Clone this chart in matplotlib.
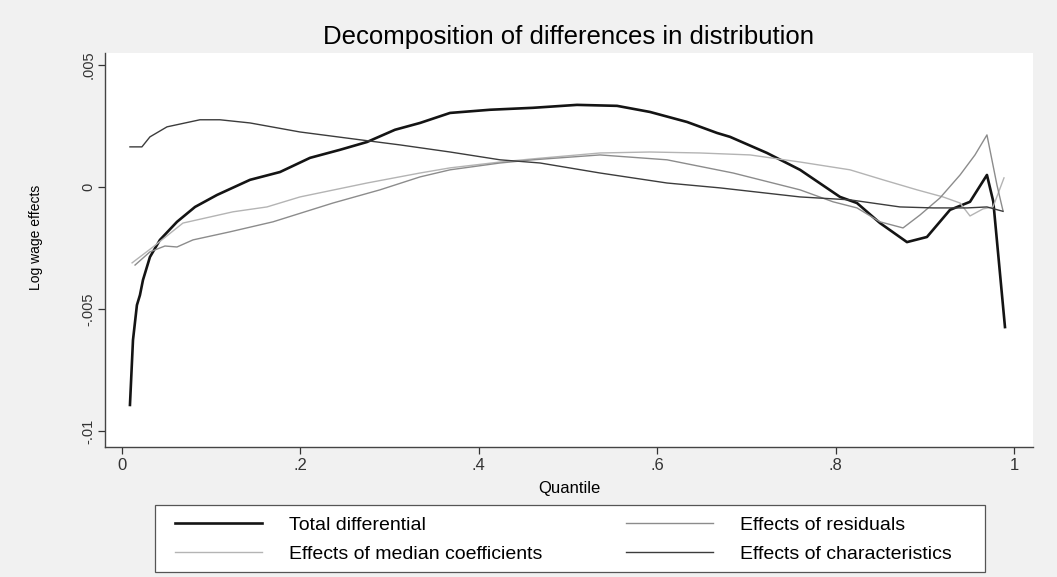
import matplotlib
matplotlib.use('Agg')
import matplotlib.pyplot as plt
from matplotlib.patches import Rectangle

plt.rcParams['font.family'] = ['Liberation Sans', 'DejaVu Sans']

# quantile decomposition series (log wage effects)
q_total = [0.0093, 0.0127, 0.0171, 0.0205, 0.0239, 0.0317, 0.0429, 0.062, 0.0822, 0.1068,
           0.1438, 0.1774, 0.211, 0.2446, 0.2749, 0.3062, 0.3343, 0.3679, 0.4127, 0.4609,
           0.5101, 0.555, 0.5919, 0.6334, 0.667, 0.6816, 0.723, 0.76, 0.8048, 0.8238,
           0.8496, 0.8798, 0.9022, 0.928, 0.9504, 0.9694, 0.9765, 0.9896]
total = [-0.00893, -0.00627, -0.00484, -0.00443, -0.00381, -0.00287, -0.00217, -0.00143, -0.00082, -0.00033,
         0.00029, 0.00061, 0.00119, 0.00152, 0.00184, 0.00234, 0.00262, 0.00303, 0.00316, 0.00324,
         0.00336, 0.00332, 0.00307, 0.00266, 0.00221, 0.00205, 0.00139, 0.0007, -0.00041, -0.00066,
         -0.00148, -0.00226, -0.00205, -0.00094, -0.00061, 0.00049, -0.00060, -0.00574]

q_median = [0.0117, 0.0351, 0.0687, 0.1247, 0.1628, 0.1998, 0.2749, 0.3343, 0.3679, 0.4239,
            0.4609, 0.5359, 0.5919, 0.648, 0.704, 0.76, 0.816, 0.853, 0.8911, 0.9202,
            0.9393, 0.9504, 0.965, 0.9762, 0.9885]
median_coef = [-0.00311, -0.00246, -0.00148, -0.00102, -0.00082, -0.00041, 0.00016, 0.00057, 0.00078, 0.00102,
               0.00115, 0.00139, 0.00143, 0.00139, 0.00131, 0.00102, 0.0007, 0.00029, -0.00012, -0.00041,
               -0.00066, -0.00119, -0.0009, -0.00082, 0.00037]

q_resid = [0.0150, 0.0317, 0.0485, 0.062, 0.0799, 0.1213, 0.1695, 0.2367, 0.2894, 0.3343,
           0.3679, 0.4239, 0.4609, 0.5359, 0.611, 0.685, 0.76, 0.797, 0.8238, 0.8496,
           0.8754, 0.8944, 0.9168, 0.9393, 0.956, 0.9694, 0.9806, 0.9874]
residuals = [-0.00320, -0.00266, -0.00242, -0.00246, -0.00217, -0.00184, -0.00143, -0.00066, -0.00012, 0.00041,
             0.0007, 0.00098, 0.00111, 0.00131, 0.00111, 0.00057, -0.00012, -0.00061, -0.00086, -0.00143,
             -0.00168, -0.00115, -0.00045, 0.00049, 0.00131, 0.00213, 0.00008, -0.00098]

q_char = [0.0093, 0.0227, 0.0317, 0.0508, 0.0877, 0.1101, 0.1438, 0.1998, 0.2671, 0.3119,
          0.3679, 0.4239, 0.4687, 0.5359, 0.611, 0.6704, 0.76, 0.816, 0.872, 0.909,
          0.9471, 0.9694, 0.9874]
characteristics = [0.00164, 0.00164, 0.00205, 0.00246, 0.00275, 0.00275, 0.00262, 0.00225, 0.00193, 0.00172,
                   0.00143, 0.00111, 0.00098, 0.00057, 0.00016, -0.00004, -0.00041, -0.00053, -0.00082, -0.00086,
                   -0.00086, -0.00082, -0.00100]

x_ticks = [0, 0.2, 0.4, 0.6, 0.8, 1.0]
x_labels = ['0', '.2', '.4', '.6', '.8', '1']
y_ticks = [-0.01, -0.005, 0, 0.005]
y_labels = ['-.01', '-.005', '0', '.005']

W, H = 1057, 577
fig = plt.figure(figsize=(W / 100, H / 100), dpi=100, facecolor='#f1f1f1')
ax = fig.add_axes([0.0993, 0.2258, 0.878, 0.683])
ax.set_facecolor('white')

l_tot, = ax.plot(q_total, total, color='#141414', lw=1.9, label='Total differential')
l_med, = ax.plot(q_median, median_coef, color='#b4b4b4', lw=1.0, label='Effects of median coefficients')
l_res, = ax.plot(q_resid, residuals, color='#8c8c8c', lw=1.0, label='Effects of residuals')
l_chr, = ax.plot(q_char, characteristics, color='#3c3c3c', lw=1.0, label='Effects of characteristics')

ax.set_xlim(-0.0187, 1.021)
ax.set_ylim(-0.01064, 0.0055)
ax.set_xticks(x_ticks, x_labels)
ax.set_yticks(y_ticks, y_labels)
for lab in ax.get_yticklabels():
    lab.set_rotation(90)
    lab.set_va('center')
ax.tick_params(direction='out', length=5, width=0.9, colors='#333333')
ax.tick_params(axis='x', labelsize=12, pad=3)
ax.tick_params(axis='y', labelsize=10.5, pad=2)
for s in ['top', 'right']:
    ax.spines[s].set_visible(False)
for s in ['left', 'bottom']:
    ax.spines[s].set_color('#444444')
    ax.spines[s].set_linewidth(1.0)

ax.set_xlabel('Quantile', fontsize=12, labelpad=6)
ax.set_ylabel('Log wage effects', fontsize=10)
ax.yaxis.set_label_coords(-0.0668, 0.532)
ax.set_title('Decomposition of differences in distribution', fontsize=18.5, pad=6)

# legend box drawn separately so the inner padding can differ per direction
fig.patches.append(Rectangle((155 / W, 1 - 572 / H), 830 / W, 67 / H, transform=fig.transFigure,
                             facecolor='white', edgecolor='#555555', lw=0.9, zorder=0))
fig.legend(handles=[l_tot, l_med, l_res, l_chr], ncol=2, loc='upper left',
           bbox_to_anchor=(175 / W, 1 - 516 / H), borderaxespad=0, borderpad=0,
           fontsize=14, handlelength=4.47, handletextpad=1.39, columnspacing=4.3,
           labelspacing=0.62, frameon=False)

fig.savefig('out.png', dpi=100, facecolor=fig.get_facecolor())
